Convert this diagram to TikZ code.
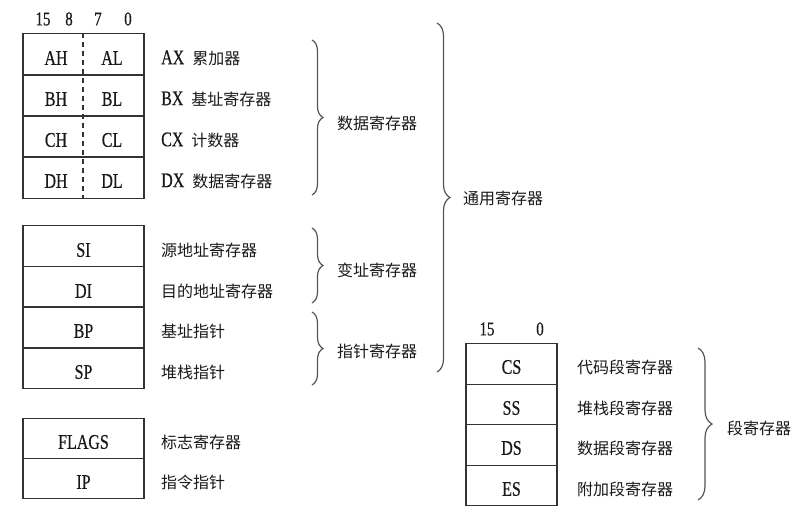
\documentclass[tikz,border=0pt]{standalone}
\usepackage{fontspec}
\usepackage{graphicx}
\setmainfont{Liberation Serif}[FakeBold=0.6,UprightFont=*]
\newfontfamily\cjk{Noto Sans CJK SC}
\usetikzlibrary{decorations.pathreplacing}
\newcommand\lat[1]{\scalebox{1}[1.3]{#1}}
\definecolor{linec}{HTML}{333333}
\definecolor{bracec}{HTML}{555555}
\begin{document}
\begin{tikzpicture}[x=1pt,y=-1pt,
  every node/.style={inner sep=0pt, text=black!90, font=\fontsize{16}{18}\selectfont},
  reg/.style={draw=linec, line width=1.3pt, minimum width=121pt, minimum height=41pt, anchor=north},
  seg/.style={draw=linec, line width=1.3pt, minimum width=91pt, minimum height=40.5pt, anchor=north},
  lab/.style={anchor=west},
  half/.style={anchor=center},
  bit/.style={anchor=center, font=\fontsize{15}{17}\selectfont},
  divider/.style={draw=linec, line width=1.2pt, dash pattern=on 5pt off 4pt},
  brc/.style={decorate, decoration={brace, amplitude=#1}, draw=bracec, line width=1.2pt},
  brc/.default=11pt]
\useasboundingbox (0,0) rectangle (800,510);

% ---- bit numbers, group 1
\node[bit] (b15) at (43,19) {\lat{15}};
\node[bit] (b8)  at (69,19) {\lat{8}};
\node[bit] (b7)  at (98,19) {\lat{7}};
\node[bit] (b0)  at (128,19) {\lat{0}};

% ---- data registers
\node[reg] (rA) at (83.5,33) {};
\node[reg] (rB) at (83.5,74.25) {};
\node[reg] (rC) at (83.5,115.5) {};
\node[reg] (rD) at (83.5,156.75) {};
\coordinate (dtop) at (83,33);
\coordinate (dbot) at (83,198);
\draw[divider] (dtop) -- (dbot);

\node[half] (AH) at (56,58) {\lat{AH}};
\node[half] (AL) at (112,58) {\lat{AL}};
\node[half] (BH) at (56,99) {\lat{BH}};
\node[half] (BL) at (112,99) {\lat{BL}};
\node[half] (CH) at (56,140) {\lat{CH}};
\node[half] (CL) at (112,140) {\lat{CL}};
\node[half] (DH) at (56,181) {\lat{DH}};
\node[half] (DL) at (112,181) {\lat{DL}};

\node[lab] (lA) at (161,58) {\lat{AX}\hspace{8pt}{\cjk 累加器}};
\node[lab] (lB) at (161,99) {\lat{BX}\hspace{8pt}{\cjk 基址寄存器}};
\node[lab] (lC) at (161,140) {\lat{CX}\hspace{8pt}{\cjk 计数器}};
\node[lab] (lD) at (161,181) {\lat{DX}\hspace{8pt}{\cjk 数据寄存器}};

% ---- index / pointer registers
\node[reg, minimum height=40.75pt] (rSI) at (83.5,225) {};
\node[reg, minimum height=40.75pt] (rDI) at (83.5,265.75) {};
\node[reg, minimum height=40.75pt] (rBP) at (83.5,306.5) {};
\node[reg, minimum height=40.75pt] (rSP) at (83.5,347.25) {};
\node[half] (tSI) at (83.5,250) {\lat{SI}};
\node[half] (tDI) at (83.5,291) {\lat{DI}};
\node[half] (tBP) at (83.5,331) {\lat{BP}};
\node[half] (tSP) at (83.5,372) {\lat{SP}};
\node[lab] (lSI) at (161,250) {\cjk 源地址寄存器};
\node[lab] (lDI) at (161,291) {\cjk 目的地址寄存器};
\node[lab] (lBP) at (161,331) {\cjk 基址指针};
\node[lab] (lSP) at (161,372) {\cjk 堆栈指针};

% ---- flags / ip
\node[reg, minimum height=40pt] (rF) at (83.5,418) {};
\node[reg, minimum height=40pt] (rIP) at (83.5,458) {};
\node[half] (tF) at (83.5,442) {\lat{FLAGS}};
\node[half] (tIP) at (83.5,482) {\lat{IP}};
\node[lab] (lF) at (161,442) {\cjk 标志寄存器};
\node[lab] (lIP) at (161,482) {\cjk 指令指针};

% ---- braces, left
\coordinate (d1) at (312,40);  \coordinate (d2) at (312,195);
\coordinate (x1) at (312,228); \coordinate (x2) at (312,303);
\coordinate (p1) at (312,312); \coordinate (p2) at (312,385);
\coordinate (g1) at (437,23);  \coordinate (g2) at (437,372);
\draw[brc] (d1) -- (d2);
\draw[brc] (x1) -- (x2);
\draw[brc] (p1) -- (p2);
\draw[brc=13pt] (g1) -- (g2);
\node[lab] (ndata) at (337,123) {\cjk 数据寄存器};
\node[lab] (nidx)  at (337,270) {\cjk 变址寄存器};
\node[lab] (nptr)  at (337,351) {\cjk 指针寄存器};
\node[lab] (ngen)  at (463,198) {\cjk 通用寄存器};

% ---- segment registers
\node[bit] (s15) at (487,329) {\lat{15}};
\node[bit] (s0)  at (540,329) {\lat{0}};
\node[seg] (rCS) at (511.5,343) {};
\node[seg] (rSS) at (511.5,383.5) {};
\node[seg] (rDS) at (511.5,424) {};
\node[seg] (rES) at (511.5,464.5) {};
\node[half] (tCS) at (511.5,367) {\lat{CS}};
\node[half] (tSS) at (511.5,408) {\lat{SS}};
\node[half] (tDS) at (511.5,448) {\lat{DS}};
\node[half] (tES) at (511.5,489) {\lat{ES}};
\node[lab] (lCS) at (577,367) {\cjk 代码段寄存器};
\node[lab] (lSS) at (577,408) {\cjk 堆栈段寄存器};
\node[lab] (lDS) at (577,448) {\cjk 数据段寄存器};
\node[lab] (lES) at (577,489) {\cjk 附加段寄存器};
\coordinate (s1) at (698,348); \coordinate (s2) at (698,500);
\draw[brc=14pt] (s1) -- (s2);
\node[lab] (nseg) at (727,428) {\cjk 段寄存器};
\end{tikzpicture}
\end{document}
